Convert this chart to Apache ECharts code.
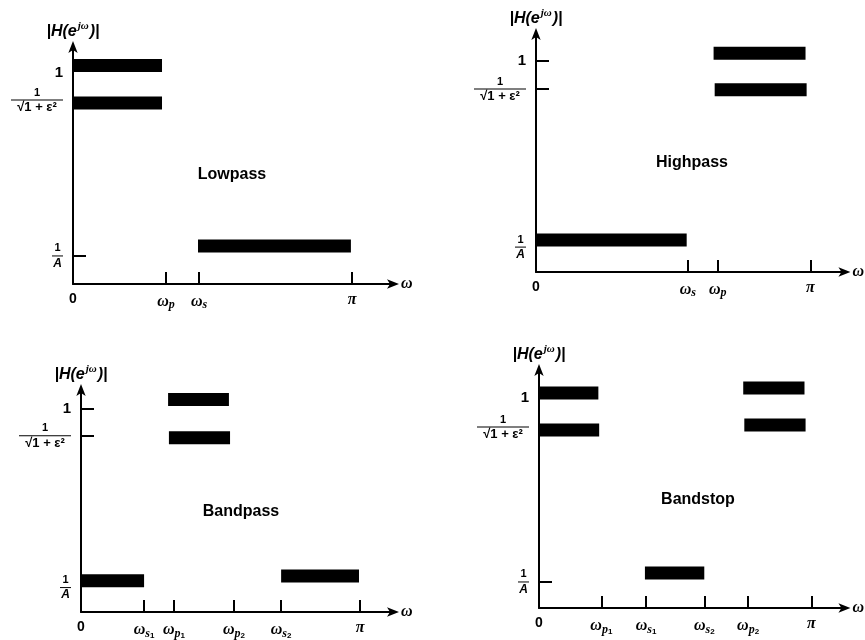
<!DOCTYPE html>
<html>
<head>
<meta charset="utf-8">
<script src="https://cdn.jsdelivr.net/npm/echarts@6/dist/echarts.min.js"></script>
<style>
  html, body { margin: 0; padding: 0; background: #fff; }
  #chart { width: 865px; height: 640px; }
</style>
</head>
<body>
<div id="chart"></div>
<script>
// Filter tolerance schemes. Frequencies are in units of pi (pi = 1),
// magnitudes in units of the passband maximum (1 = unity gain).

// Lowpass
const lpTickPos = [0.333, 0.452, 1];
const lpTickNames = ['ω_p', 'ω_s', 'π'];
const lpLevels = [1, 0.872, 0.133];           // 1, 1/sqrt(1+eps^2), 1/A
const lpLevelTicks = [0.133];                 // tick marks not hidden under a band
const lpBands = [[0, 0.319, 1.036], [0, 0.319, 0.858], [0.448, 0.996, 0.18]];

// Highpass
const hpTickPos = [0.553, 0.662, 1];
const hpTickNames = ['ω_s', 'ω_p', 'π'];
const hpLevels = [1, 0.867, 0.118];
const hpLevelTicks = [1, 0.867];
const hpBands = [[0, 0.549, 0.152], [0.647, 0.982, 1.036], [0.651, 0.986, 0.863]];

// Bandpass
const bpTickPos = [0.226, 0.333, 0.548, 0.717, 1];
const bpTickNames = ['ω_s1', 'ω_p1', 'ω_p2', 'ω_s2', 'π'];
const bpLevels = [1, 0.866, 0.12];
const bpLevelTicks = [1, 0.866];
const bpBands = [[0, 0.226, 0.153], [0.312, 0.53, 1.043], [0.315, 0.534, 0.856], [0.717, 0.996, 0.177]];

// Bandstop
const bsTickPos = [0.229, 0.393, 0.607, 0.768, 1];
const bsTickNames = ['ω_p1', 'ω_s1', 'ω_s2', 'ω_p2', 'π'];
const bsLevels = [1, 0.862, 0.124];
const bsLevelTicks = [0.124];
const bsBands = [[0, 0.218, 1.024], [0, 0.221, 0.848], [0.75, 0.975, 1.048], [0.754, 0.979, 0.871], [0.389, 0.607, 0.167]];

const panelTitles = ['Lowpass', 'Highpass', 'Bandpass', 'Bandstop'];

const SANS = '"Liberation Sans", Arial, sans-serif';
const SERIF = '"Liberation Serif", "DejaVu Serif", serif';

const xRich = {
  w: { fontFamily: SERIF, fontStyle: 'italic', fontWeight: 'bold', fontSize: 16, color: '#000' },
  s: { fontFamily: SERIF, fontStyle: 'italic', fontWeight: 'bold', fontSize: 12, color: '#000', padding: [7, 0, 0, 0] },
  ss: { fontFamily: SANS, fontWeight: 'bold', fontSize: 8, color: '#000', padding: [12, 0, 0, 0] },
  pi: { fontFamily: SERIF, fontStyle: 'italic', fontWeight: 'bold', fontSize: 16, color: '#000' },
  z: { fontFamily: SANS, fontWeight: 'bold', fontSize: 14, color: '#000' }
};

function freqLabel(name) {
  if (name === 'π') return '{pi|π}';
  const sub = name.split('_')[1];
  let s = '{w|ω}{s|' + sub[0] + '}';
  if (sub.length > 1) s += '{ss|' + sub.slice(1) + '}';
  return s;
}

const FW = 52;
const yRich = {
  one: { fontFamily: SANS, fontWeight: 'bold', fontSize: 15, color: '#000' },
  n: { fontFamily: SANS, fontWeight: 'bold', fontSize: 11, color: '#000', width: FW, align: 'center', lineHeight: 13 },
  r: { fontSize: 1, width: FW, height: 1, lineHeight: 2, backgroundColor: '#000' },
  d: { fontFamily: SANS, fontWeight: 'bold', fontSize: 13, color: '#000', width: FW, align: 'center', lineHeight: 13 },
  n2: { fontFamily: SANS, fontWeight: 'bold', fontSize: 11, color: '#000', width: 11, align: 'center', lineHeight: 13 },
  r2: { fontSize: 1, width: 11, height: 1, lineHeight: 2, backgroundColor: '#000' },
  a: { fontFamily: SANS, fontStyle: 'italic', fontWeight: 'bold', fontSize: 12, color: '#000', width: 11, align: 'center', lineHeight: 13 }
};

function levelLabel(levels, v) {
  if (Math.abs(v - levels[0]) < 1e-6) return '{one|1}';
  if (Math.abs(v - levels[1]) < 1e-6) return '{n|1}\n{r| }\n{d|√1 + ε²}';
  return '{n2|1}\n{r2| }\n{a|A}';
}

const axisLineStyle = { color: '#000', width: 2 };

function buildPanel(idx, box, xMax, yMax, tickPos, tickNames, levels, levelTicks, bands) {
  const xAxis = {
    gridIndex: idx, type: 'value', min: 0, max: xMax,
    splitLine: { show: false },
    name: '{w|ω}', nameLocation: 'end', nameGap: 6,
    nameTextStyle: { rich: xRich, verticalAlign: 'middle' },
    axisLine: { lineStyle: axisLineStyle, symbol: ['none', 'arrow'], symbolSize: [7, 12], symbolOffset: [0, 4] },
    axisTick: { show: true, inside: true, length: 12, lineStyle: { color: '#000', width: 2 }, customValues: tickPos },
    axisLabel: {
      customValues: [0].concat(tickPos), margin: 8, rich: xRich,
      formatter: function (v) {
        if (v === 0) return '{z|0}';
        const i = tickPos.findIndex(function (p) { return Math.abs(p - v) < 1e-6; });
        return freqLabel(tickNames[i]);
      }
    }
  };
  const yAxis = {
    gridIndex: idx, type: 'value', min: 0, max: yMax,
    splitLine: { show: false },
    name: '{t||H(e}{sup|jω}{t|)|}', nameLocation: 'end', nameGap: 3,
    nameTextStyle: {
      rich: {
        t: { fontFamily: SANS, fontStyle: 'italic', fontWeight: 'bold', fontSize: 16, color: '#000' },
        sup: { fontFamily: SERIF, fontStyle: 'italic', fontWeight: 'bold', fontSize: 11, color: '#000', padding: [0, 1, 10, 1] }
      }
    },
    axisLine: { lineStyle: axisLineStyle, symbol: ['none', 'arrow'], symbolSize: [7, 12], symbolOffset: [0, 4] },
    axisTick: { show: true, inside: true, length: 13, lineStyle: { color: '#000', width: 2 }, customValues: levelTicks },
    axisLabel: {
      customValues: levels, margin: 10, rich: yRich,
      formatter: function (v) { return levelLabel(levels, v); }
    }
  };
  const series = {
    type: 'custom', xAxisIndex: idx, yAxisIndex: idx, clip: false,
    encode: { x: [0, 1], y: 2 },
    data: bands,
    renderItem: function (params, api) {
      const a = api.coord([api.value(0), api.value(2)]);
      const b = api.coord([api.value(1), api.value(2)]);
      const h = 13;
      return { type: 'rect', shape: { x: a[0], y: a[1] - h / 2, width: b[0] - a[0], height: h }, style: { fill: '#000' } };
    }
  };
  return { grid: Object.assign({ containLabel: false }, box), xAxis: xAxis, yAxis: yAxis, series: series };
}

const panels = [
  buildPanel(0, { left: 73, top: 45, width: 322, height: 239 }, 1.154, 1.133, lpTickPos, lpTickNames, lpLevels, lpLevelTicks, lpBands),
  buildPanel(1, { left: 536, top: 32, width: 311, height: 240 }, 1.131, 1.137, hpTickPos, hpTickNames, hpLevels, hpLevelTicks, hpBands),
  buildPanel(2, { left: 81, top: 388, width: 314, height: 230 }, 1.125, 1.1, bpTickPos, bpTickNames, bpLevels, bpLevelTicks, bpBands),
  buildPanel(3, { left: 539, top: 368, width: 316, height: 240 }, 1.129, 1.143, bsTickPos, bsTickNames, bsLevels, bsLevelTicks, bsBands)
];

const titlePos = [[232, 175], [692, 163], [241, 512], [698, 500]];

const option = {
  backgroundColor: '#fff',
  animation: false,
  grid: panels.map(function (p) { return p.grid; }),
  xAxis: panels.map(function (p) { return p.xAxis; }),
  yAxis: panels.map(function (p) { return p.yAxis; }),
  series: panels.map(function (p) { return p.series; }),
  graphic: panelTitles.map(function (t, i) {
    return {
      type: 'text', x: titlePos[i][0], y: titlePos[i][1],
      style: { text: t, font: 'bold 16px ' + SANS, fill: '#000', textAlign: 'center', textVerticalAlign: 'middle' }
    };
  })
};

const chart = echarts.init(document.getElementById('chart'), null, { renderer: 'canvas' });
chart.setOption(option);
</script>
</body>
</html>
